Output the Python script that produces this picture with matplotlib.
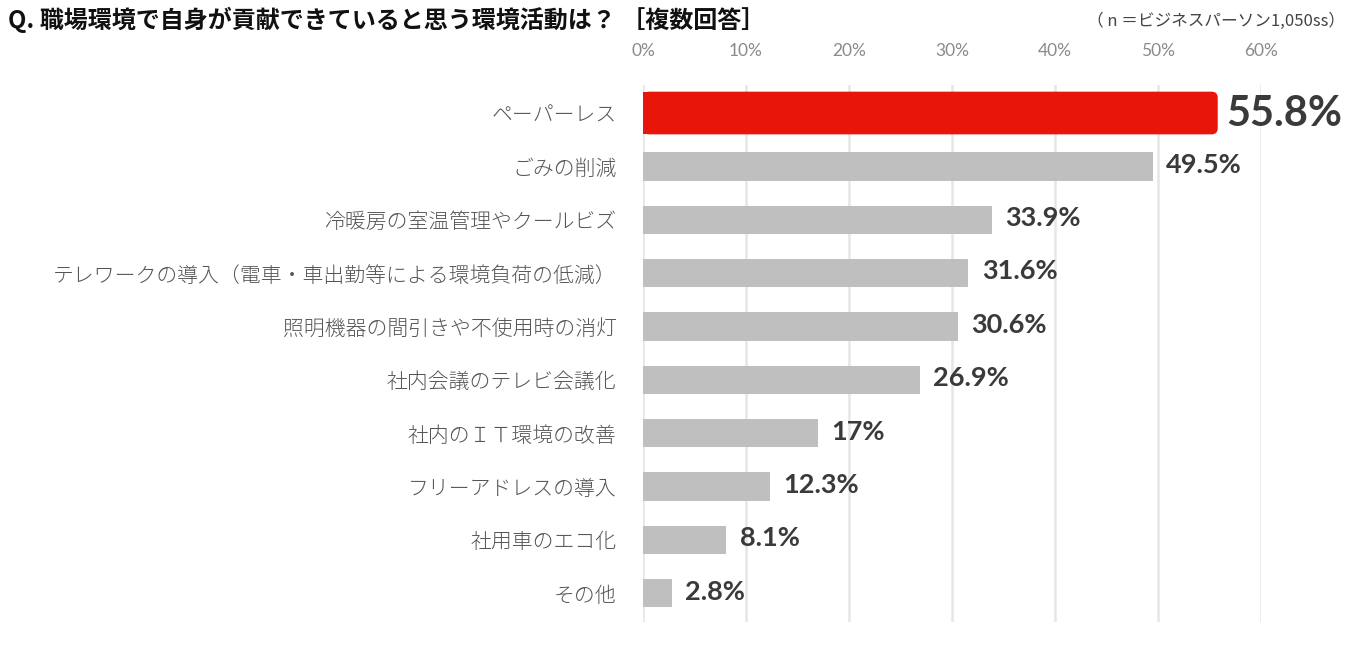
import matplotlib.pyplot as plt
from matplotlib.patches import FancyBboxPatch

plt.rcParams['font.family'] = ['Noto Sans CJK JP', 'DejaVu Sans']

# ---- data ----
categories = [
    "ペーパーレス",
    "ごみの削減",
    "冷暖房の室温管理やクールビズ",
    "テレワークの導入（電車・車出勤等による環境負荷の低減）",
    "照明機器の間引きや不使用時の消灯",
    "社内会議のテレビ会議化",
    "社内のＩＴ環境の改善",
    "フリーアドレスの導入",
    "社用車のエコ化",
    "その他",
]
values = [55.8, 49.5, 33.9, 31.6, 30.6, 26.9, 17, 12.3, 8.1, 2.8]
value_labels = ["55.8%", "49.5%", "33.9%", "31.6%", "30.6%", "26.9%", "17%", "12.3%", "8.1%", "2.8%"]
xticks = [0, 10, 20, 30, 40, 50, 60]
xtick_labels = ["0%", "10%", "20%", "30%", "40%", "50%", "60%"]

title = "Q. 職場環境で自身が貢献できていると思う環境活動は？ ［複数回答］"
note = "（ n ＝ビジネスパーソン1,050ss）"

RED = "#e8150b"
GRAY = "#bfbfbf"
TEXT = "#3a3a3a"

fig = plt.figure(figsize=(13.59, 6.48), dpi=100)
ax = fig.add_axes([643 / 1359, 1 - 622 / 648, (1261 - 643) / 1359, (622 - 85) / 648])

ypos = list(range(len(categories)))

# gray bars (all but the first)
ax.barh(ypos[1:], values[1:], height=0.53, color=GRAY, zorder=3)

# highlighted first bar, rounded on the right end, square at the left
h_top = 0.8
top_bar = FancyBboxPatch((0, ypos[0] - h_top / 2), values[0], h_top,
                         boxstyle="round,pad=0,rounding_size=0.6",
                         mutation_aspect=0.193, fc=RED, ec="none", zorder=3)
ax.add_patch(top_bar)
ax.barh(ypos[0], 1, height=h_top, color=RED, zorder=3)

# value labels
for i, (v, lab) in enumerate(zip(values, value_labels)):
    if i == 0:
        ax.text(v + 0.8, i + 0.02, lab, va="center", ha="left", fontsize=30,
                fontweight="bold", color=TEXT, family=["Lato", "DejaVu Sans"])
    else:
        ax.text(v + 1.3, i - 0.03, lab, va="center", ha="left", fontsize=19.5,
                fontweight="bold", color=TEXT, family=["Lato", "DejaVu Sans"])

ax.set_xlim(0, 60)
ax.set_ylim(9.54, -0.525)
ax.set_xticks(xticks)
ax.set_xticklabels(xtick_labels, color="#8a8a8a", fontsize=12.5,
                   family=["Lato", "DejaVu Sans"])
ax.xaxis.tick_top()
ax.tick_params(axis="x", length=0, pad=19)
ax.set_yticks(ypos)
ax.set_yticklabels(categories, fontsize=15, color="#555555", fontweight="light")
ax.tick_params(axis="y", length=0, pad=19)
ax.grid(axis="x", color="#e6e6e6", linewidth=1.8, zorder=0)
ax.set_axisbelow(True)
for s in ax.spines.values():
    s.set_visible(False)

fig.text(8 / 1359, 1 - 20 / 648, title, fontsize=17.3, fontweight="bold",
         color="#111111", va="center", ha="left")
fig.text(1345 / 1359, 1 - 21 / 648, note, fontsize=12, color="#444444",
         va="center", ha="right")

fig.savefig("out.png", dpi=100)
